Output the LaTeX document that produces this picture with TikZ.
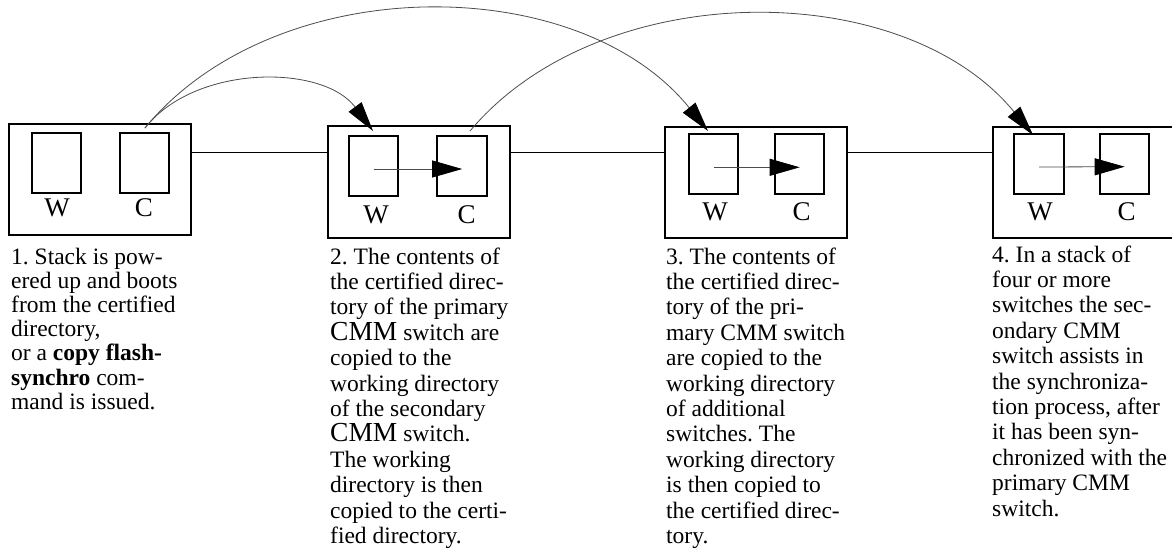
\documentclass[tikz,border=0pt]{standalone}
\usepackage{fontspec}
\setmainfont{Liberation Serif}
\usetikzlibrary{arrows.meta}
\tikzset{
  obox/.style={draw, line width=2pt, minimum width=182pt, minimum height=111.5pt, inner sep=0pt},
  ibox/.style={draw, line width=2pt, minimum width=49.5pt, minimum height=60pt, inner sep=0pt},
  lbl/.style={inner sep=0pt, font=\fontsize{27}{30}\selectfont},
  link/.style={line width=1pt},
  copyarc/.style={line width=0.8pt, draw=black!70, -{Triangle[length=30pt,width=16pt,color=black]}},
  innerarrow/.style={line width=0.8pt, draw=black!70, -{Triangle[length=30pt,width=17pt,color=black]}},
  txt/.style={anchor=base west, inner sep=0pt, font=\fontsize{23.5}{25.4}\selectfont},
  txtA/.style={txt, font=\fontsize{23.5}{24.2}\selectfont}
}
\newcommand{\colpar}[1]{\parbox[t]{240pt}{\raggedright\frenchspacing #1}}
\newcommand{\bigcmm}{{\fontsize{27.5}{25.4}\selectfont CMM}}
\begin{document}
\begin{tikzpicture}[x=1pt,y=-1pt]
\useasboundingbox (0,0) rectangle (1172,554);
\fill[white] (0,0) rectangle (1172,554);
\clip (0,0) rectangle (1172,554);

% outer boxes
\node[obox] (b1) at (99.5,179.5) {};
\node[obox] (b2) at (419.2,182) {};
\node[obox] (b3) at (755.8,182.5) {};
\node[obox] (b4) at (1084.3,182.3) {};

% inner boxes
\node[ibox] (w1) at (56.5,162.7) {};
\node[ibox] (c1) at (144.7,163) {};
\node[ibox] (w2) at (373.7,166) {};
\node[ibox] (c2) at (462.2,166) {};
\node[ibox] (w3) at (713.7,164.3) {};
\node[ibox] (c3) at (799.7,164.3) {};
\node[ibox] (w4) at (1039,164) {};
\node[ibox] (c4) at (1124.7,163.7) {};

% labels
\node[lbl] (lw1) at (57,208) {W};
\node[lbl] (lc1) at (144,208) {C};
\node[lbl] (lw2) at (376,215) {W};
\node[lbl] (lc2) at (466.7,215) {C};
\node[lbl] (lw3) at (715,212) {W};
\node[lbl] (lc3) at (801.7,212) {C};
\node[lbl] (lw4) at (1040,212) {W};
\node[lbl] (lc4) at (1126.7,212) {C};

% links between stack members
\coordinate (lvl) at (0,152);
\draw[link] (b1.east |- lvl) -- (b2.west |- lvl);
\draw[link] (b2.east |- lvl) -- (b3.west |- lvl);
\draw[link] (b3.east |- lvl) -- (b4.west |- lvl);

% inner copy arrows
\draw[innerarrow] ([yshift=-3pt]w2.center) -- ([yshift=-3pt]c2.center);
\draw[innerarrow] ([yshift=-3pt]w3.center) -- ([yshift=-3pt]c3.center);
\draw[innerarrow] ([yshift=-3pt]w4.center) -- ([yshift=-3pt]c4.center);

% arcs
\coordinate (s1) at (145,128);
\coordinate (s2) at (470,131);
\coordinate (e1) at (373,131);
\coordinate (e2) at (708,131);
\coordinate (e3) at (1033,135);
\draw[copyarc] (s1) .. controls (195,64) and (323,64) .. (e1);
\draw[copyarc] (s1) .. controls (275,-30) and (578,-30) .. (e2);
\draw[copyarc] (s2) .. controls (600,-24) and (903,-24) .. (e3);

% texts
\node[txtA] (t1) at (11,264) {\colpar{1. Stack is pow-\\
ered up and boots\\
from the certified\\
directory,\\
or a \textbf{copy flash-}\\
\textbf{synchro} com-\\
mand is issued.}};

\node[txt] (t2) at (330,264) {\colpar{2. The contents of\\
the certified direc-\\
tory of the primary\\
\bigcmm{} switch are\\
copied to the\\
working directory\\
of the secondary\\
\bigcmm{} switch.\\
The working\\
directory is then\\
copied to the certi-\\
fied directory.}};

\node[txt] (t3) at (666,264) {\colpar{3. The contents of\\
the certified direc-\\
tory of the pri-\\
mary CMM switch\\
are copied to the\\
working directory\\
of additional\\
switches. The\\
working directory\\
is then copied to\\
the certified direc-\\
tory.}};

\node[txt] (t4) at (992,262) {\colpar{4. In a stack of\\
four or more\\
switches the sec-\\
ondary CMM\\
switch assists in\\
the synchroniza-\\
tion process, after\\
it has been syn-\\
chronized with the\\
primary CMM\\
switch.}};
\end{tikzpicture}
\end{document}
